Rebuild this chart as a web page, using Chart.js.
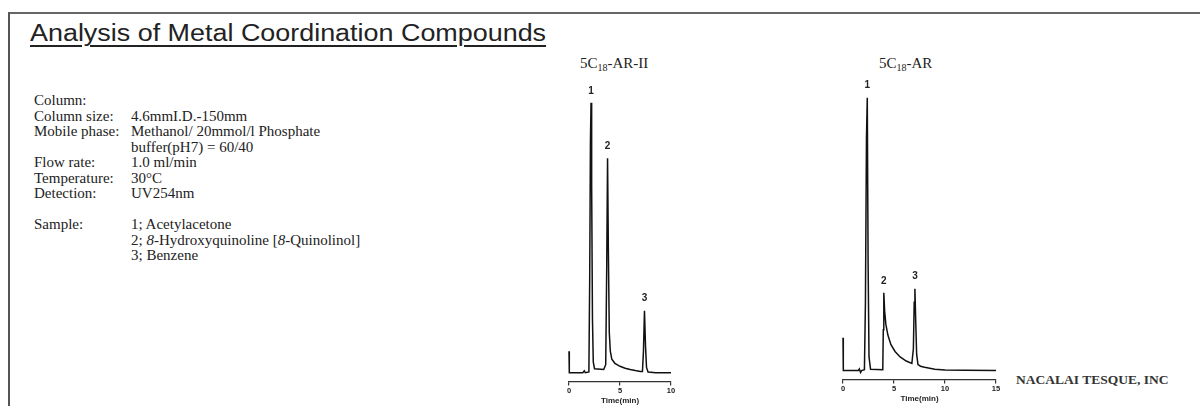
<!DOCTYPE html>
<html>
<head>
<meta charset="utf-8">
<script src="https://cdn.jsdelivr.net/npm/chart.js@4.4.1/dist/chart.umd.min.js"></script>
<style>
  body { margin: 0; width: 1200px; height: 406px; background: #fff; overflow: hidden; position: relative; }
  .frame { position: absolute; left: 8px; top: 12px; width: 1300px; height: 500px; border-left: 2px solid #555; border-top: 2px solid #666; }
  .title { position: absolute; left: 30px; top: 20px; font: 23px "Liberation Sans", Arial, sans-serif; color: #222;
           text-decoration: underline; text-decoration-thickness: 2px; text-underline-offset: 4px;
           transform: scaleX(1.17); transform-origin: left top; white-space: nowrap; }
  .cond { position: absolute; left: 34px; top: 93px; font: 15px/15.5px "Liberation Serif", "Times New Roman", serif; color: #222; }
  .cond .row { height: 15.5px; white-space: nowrap; }
  .cond .lab { display: inline-block; width: 97px; }
  .sub { position: absolute; top: 56px; font: 15px/15px "Liberation Serif", serif; color: #222; white-space: nowrap; }
  .sub span { font-size: 10px; position: relative; top: 3px; }
  .maker { position: absolute; left: 1016px; top: 372px; font: bold 13.5px "Liberation Serif", serif; color: #333; white-space: nowrap; }
  .box { position: absolute; }
</style>
</head>
<body>
<div class="frame"></div>
<div class="title">Analysis of Metal Coordination Compounds</div>
<div class="cond">
  <div class="row"><span class="lab">Column:</span></div>
  <div class="row"><span class="lab">Column size:</span>4.6mmI.D.-150mm</div>
  <div class="row"><span class="lab">Mobile phase:</span>Methanol/ 20mmol/l Phosphate</div>
  <div class="row"><span class="lab"></span>buffer(pH7) = 60/40</div>
  <div class="row"><span class="lab">Flow rate:</span>1.0 ml/min</div>
  <div class="row"><span class="lab">Temperature:</span>30°C</div>
  <div class="row"><span class="lab">Detection:</span>UV254nm</div>
  <div class="row"></div>
  <div class="row"><span class="lab">Sample:</span>1; Acetylacetone</div>
  <div class="row"><span class="lab"></span>2; <i>8</i>-Hydroxyquinoline [<i>8</i>-Quinolinol]</div>
  <div class="row"><span class="lab"></span>3; Benzene</div>
</div>
<div class="sub" style="left:580px">5C<span>18</span>-AR-II</div>
<div class="sub" style="left:879px">5C<span>18</span>-AR</div>
<div class="maker">NACALAI TESQUE, INC</div>

<div class="box" style="left:559px; top:78px; width:122px; height:328px;"><canvas id="chartAR2" width="122" height="328"></canvas></div>
<div class="box" style="left:833px; top:75px; width:173px; height:331px;"><canvas id="chartAR" width="173" height="331"></canvas></div>

<script>
// 5C18-AR-II chromatogram (time in min, detector signal, peak 1 = 100)
var timeAR2 = [0, 0.03, 1.35, 1.5, 1.6, 1.95, 2.03, 2.1, 2.16, 2.22, 2.3, 2.38, 2.5, 3.4, 3.6, 3.7, 3.78, 3.86, 3.95, 4.05, 4.2, 4.5, 5.0, 5.5, 6.0, 6.5, 7.0, 7.2, 7.3, 7.4, 7.5, 7.6, 7.75, 8.5, 10];
var signalAR2 = [8, 0, 0, 0.7, 0, 0.3, 35, 85, 100, 70, 20, 4, 1.5, 1.2, 3, 40, 79.5, 45, 15, 8, 5, 3.5, 2.4, 1.7, 1.2, 0.8, 0.5, 0.5, 8, 23, 10, 2, 0.3, 0, 0];

// 5C18-AR chromatogram
var timeAR = [0, 0.03, 1.5, 1.6, 1.72, 1.82, 2.1, 2.2, 2.3, 2.38, 2.46, 2.55, 2.7, 3.9, 3.95, 4.0, 4.08, 4.2, 4.4, 4.7, 5.1, 5.6, 6.2, 6.75, 6.9, 6.98, 7.05, 7.13, 7.22, 7.35, 7.6, 8.0, 9.0, 10.0, 12.0, 15.0];
var signalAR = [12, 0, 0, 0.6, -0.7, 0, 0.3, 25, 85, 100, 40, 5, 0.5, 0.3, 15, 28.5, 22, 17, 13, 9.5, 7, 5, 3.5, 2.6, 8, 25, 30, 18, 6, 2.2, 1.6, 1.2, 0.5, 0.2, 0.1, 0];

// peak numbers
var peakNames = ["1", "2", "3"];
var peakTimesAR2 = [2.16, 3.78, 7.4];
var peakTopsAR2 = [100, 79.5, 23];
var peakTimesAR = [2.38, 4.0, 7.05];
var peakTopsAR = [100, 28.5, 30];

// x axis ticks
var ticksAR2 = [0, 5, 10];
var ticksAR = [0, 5, 10, 15];

var peakLabels = {
  id: "peakLabels",
  afterDatasetsDraw: function (chart, args, opts) {
    var ctx = chart.ctx;
    ctx.save();
    ctx.font = "bold 10px 'Liberation Sans', Arial, sans-serif";
    ctx.fillStyle = "#222";
    ctx.textAlign = "center";
    ctx.textBaseline = "middle";
    for (var i = 0; i < opts.names.length; i++) {
      var px = chart.scales.x.getPixelForValue(opts.times[i]);
      var py = chart.scales.y.getPixelForValue(opts.tops[i]);
      ctx.fillText(opts.names[i], px, py - 12);
    }
    ctx.restore();
  },
};

function makeChart(id, times, signal, tickList, yMin, yMax, pad, pTimes, pTops) {
  var pts = times.map(function (t, i) {
    return { x: t, y: signal[i] };
  });
  return new Chart(document.getElementById(id), {
    type: "line",
    data: {
      datasets: [
        {
          data: pts,
          borderColor: "#111",
          borderWidth: 1.5,
          pointRadius: 0,
          tension: 0,
          fill: false,
          clip: false,
        },
      ],
    },
    options: {
      responsive: false,
      animation: false,
      layout: { padding: pad },
      plugins: {
        legend: { display: false },
        tooltip: { enabled: false },
        peakLabels: { names: peakNames, times: pTimes, tops: pTops },
      },
      scales: {
        x: {
          type: "linear",
          min: tickList[0],
          max: tickList[tickList.length - 1],
          afterBuildTicks: function (axis) {
            axis.ticks = tickList.map(function (v) {
              return { value: v };
            });
          },
          border: { display: true, color: "#333", width: 1.2 },
          grid: { drawOnChartArea: false, drawTicks: true, tickLength: 4, color: "#333", lineWidth: 1.2 },
          ticks: {
            padding: 1,
            maxRotation: 0,
            color: "#222",
            font: { family: "'Liberation Sans', Arial, sans-serif", size: 7.5, weight: "bold" },
          },
          title: {
            display: true,
            text: "Time(min)",
            color: "#222",
            padding: 0,
            font: { family: "'Liberation Sans', Arial, sans-serif", size: 8, weight: "bold" },
          },
        },
        y: { display: false, min: yMin, max: yMax },
      },
    },
    plugins: [peakLabels],
  });
}

makeChart("chartAR2", timeAR2, signalAR2, ticksAR2, -3.2, 101.8, { left: 10, right: 10, top: 20, bottom: 0 }, peakTimesAR2, peakTopsAR2);
makeChart("chartAR", timeAR, signalAR, ticksAR, -3.24, 101, { left: 10, right: 10, top: 20, bottom: 2 }, peakTimesAR, peakTopsAR);
</script>
</body>
</html>
